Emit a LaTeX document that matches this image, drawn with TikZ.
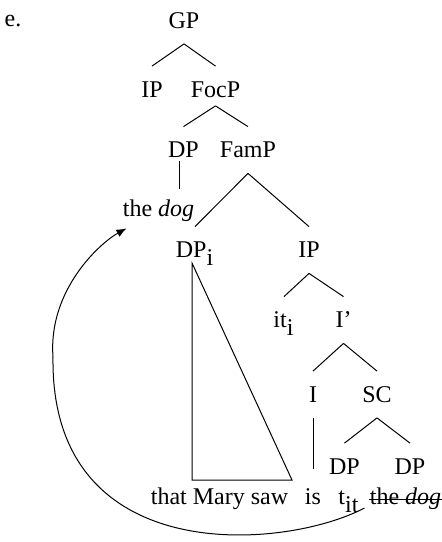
\documentclass[tikz,border=0pt]{standalone}
\usepackage{fontspec}
\setmainfont{Liberation Serif}
\usetikzlibrary{arrows.meta}

\begin{document}
\begin{tikzpicture}[
  x=0.5pt, y=-0.5pt,
  cat/.style={inner xsep=0pt, inner ysep=7.55pt, text height=7.9pt, text depth=0pt,
    font=\fontsize{12}{14}\selectfont},
  branch/.style={line width=0.5pt},
  move/.style={-{Latex[length=5pt,width=4pt]}, line width=0.5pt},
]
  \useasboundingbox (0,0) rectangle (441,542);

  % labels
  \node[cat] (ex) at (13,19) {e.};
  \node[cat] (gp) at (184,20.5) {GP};
  \node[cat] (ip) at (152,89.5) {IP};
  \node[cat] (focp) at (215.5,89.5) {FocP};
  \node[cat] (dp) at (183.5,150) {DP};
  \node[cat] (famp) at (248,150) {FamP};
  \node[cat] (dogt) at (158.5,209) {the \textit{dog}};
  \node[cat] (dpi) at (195,250) {DP$_{\textrm{i}}$};
  \node[cat] (ipr) at (309,250) {IP};
  \node[cat] (it) at (284,320) {it$_{\textrm{i}}$};
  \node[cat] (ibar) at (343.5,320) {I’};
  \node[cat] (infl) at (313,394.5) {I};
  \node[cat] (sc) at (377,394.5) {SC};
  \node[cat] (dpl) at (344.5,466.5) {DP};
  \node[cat] (dpr) at (410,466.5) {DP};
  \node[cat] (tms) at (219.5,497) {that Mary saw};
  \node[cat] (is) at (313,497) {is};
  \node[cat] (tit) at (349,497) {t$_{\textrm{it}}$};
  \node[cat] (dogb) at (405.5,497) {the \textit{dog}};
  \draw[branch] ([yshift=-1pt]dogb.west) -- ([yshift=-1pt]dogb.east);

  % branches
  \draw[branch] (gp.south) -- (ip.north);
  \draw[branch] (gp.south) -- (focp.north);
  \draw[branch] ([yshift=3.5pt]focp.south) -- (dp.north);
  \draw[branch] ([yshift=3.5pt]focp.south) -- (famp.north);
  \draw[branch, shorten <=-6pt, shorten >=-1.5pt] ([xshift=-2pt]dp.south) -- ([xshift=-2pt]dp.south |- dogt.north);
  \draw[branch] (famp.south) -- (dpi.north);
  \draw[branch] (famp.south) -- (ipr.north);
  \draw[branch] (ipr.south) -- (it.north);
  \draw[branch] (ipr.south) -- (ibar.north);
  \draw[branch] (ibar.south) -- (infl.north);
  \draw[branch] (ibar.south) -- (sc.north);
  \draw[branch, shorten >=2.5pt] (infl.south) -- (is.north);
  \draw[branch] (sc.south) -- (dpl.north);
  \draw[branch] (sc.south) -- (dpr.north);

  % triangle
  \coordinate (tri-a) at (192,263);
  \coordinate (tri-b) at (192,480);
  \coordinate (tri-c) at (292,480);
  \draw[branch] (tri-a) -- (tri-b) -- (tri-c) -- cycle;

  % movement
  \draw[move] ([shift={(-5,11)}]dogb.west) .. controls (285,550) and (50,570) .. (53,357)
    .. controls (48,290) and (100,243) .. ([shift={(4,-4)}]dogt.south west);
\end{tikzpicture}
\end{document}
